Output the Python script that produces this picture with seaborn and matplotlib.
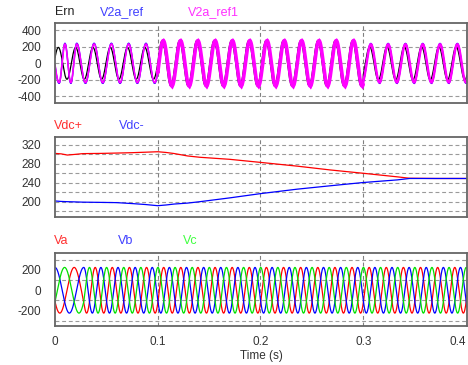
import numpy as np
import pandas as pd
import matplotlib
matplotlib.use("Agg")
import matplotlib.pyplot as plt
import seaborn as sns

# ---- values ----
t_end = 0.401
time_ticks = [0, 0.1, 0.2, 0.3, 0.4]
time_labels = ["0", "0.1", "0.2", "0.3", "0.4"]

# top panel: three stages with their amplitudes
stage_edges = [0.0, 0.1, 0.3, t_end]
ern_amp = [192, 272, 200]
ref_amp = [242, 282, 240]
ref1_amp = [234, 274, 230]
ref1_band = [5, 34, 16]
ref1_width = [1.2, 2.6, 1.8]
f_top = 59.4
ern_lead = 0.0011              # s, Ern ahead of the references
ref_peak_t = 0.0212
ref_start_shift = -3.0          # rad, start-up phase offset
ref_shift_t = [0.004, 0.021]    # offset held, then released

# middle panel: dc link voltages
vdc_t = [0.0, 0.006, 0.012, 0.02, 0.027, 0.045, 0.06, 0.075, 0.088, 0.1, 0.108,
         0.116, 0.129, 0.141, 0.17, 0.2, 0.236, 0.268, 0.3, 0.333, 0.345, 0.37, 0.401]
vdc_pos = [302, 301, 298.5, 300, 301.5, 302, 302.7, 303.5, 304.5, 305.5, 304,
           301.7, 296.6, 293.8, 289.5, 283, 275, 267, 260, 252.5, 249.5, 249, 249]
vdc_neg = [201.5, 200.5, 200, 199.5, 199, 198.5, 198, 196, 194, 191.5, 193,
           195, 197, 200, 208, 217, 226.5, 233.6, 240.5, 246, 249, 249, 249]

# bottom panel: three-phase voltages
abc_amp = 225
f_abc = 60.0
abc_phase0 = 7 * np.pi / 6
abc_startup_lag = 4.27          # rad lost during the start-up
abc_startup_t = 0.028

# ---- waveforms ----
t = np.linspace(0, t_end, 8021)
stage = np.searchsorted(stage_edges[1:-1], t, side="right")
w_top = 2 * np.pi * f_top
ern = np.array(ern_amp)[stage] * np.cos(w_top * (t - ref_peak_t + ern_lead))
hold = np.clip(1 - (t - ref_shift_t[0]) / (ref_shift_t[1] - ref_shift_t[0]), 0, 1)
ref_theta = w_top * (t - ref_peak_t) + ref_start_shift * hold
v2a_ref = np.array(ref_amp)[stage] * np.cos(ref_theta)
v2a_ref1 = np.array(ref1_amp)[stage] * np.cos(ref_theta)
band = np.array(ref1_band)[stage]

theta = abc_phase0 + 2 * np.pi * f_abc * t - abc_startup_lag * np.clip(t / abc_startup_t, 0, 1)
abc = pd.DataFrame({
    "t": t,
    "Va": abc_amp * np.sin(theta),
    "Vb": abc_amp * np.sin(theta - 2 * np.pi / 3),
    "Vc": abc_amp * np.sin(theta + 2 * np.pi / 3),
})
top = pd.DataFrame({"t": t, "stage": stage, "Ern": ern,
                    "V2a_ref": v2a_ref, "V2a_ref1": v2a_ref1})
dc = pd.DataFrame({"t": vdc_t, "Vdc+": vdc_pos, "Vdc-": vdc_neg})

# ---- figure ----
sns.set_style("white")
plt.rcParams["font.family"] = ["Liberation Sans", "DejaVu Sans"]

W, H = 468, 365
fig = plt.figure(figsize=(W / 100, H / 100), dpi=100)

def box(top_px, bottom_px):
    return [55 / W, (H - bottom_px) / H, 412 / W, (bottom_px - top_px) / H]

ax1 = fig.add_axes(box(22.7, 102.7))
ax2 = fig.add_axes(box(137.3, 217.3))
ax3 = fig.add_axes(box(252.5, 326))

RED, BLUE, GREEN, MAG = "#ff0000", "#0000ff", "#00e000", "#ff00ff"
kw = dict(estimator=None, sort=False, legend=False)

sns.lineplot(data=top, x="t", y="Ern", color="black", lw=0.9, ax=ax1, **kw)
sns.lineplot(data=top, x="t", y="V2a_ref", color=BLUE, lw=1.0, ax=ax1, **kw)
ax1.fill_between(t, v2a_ref1 - band, v2a_ref1 + band, color=MAG, lw=0)
for k, part in top.groupby("stage"):
    # keep stages joined at their edges
    if k > 0:
        part = pd.concat([top[top["stage"] == k - 1].tail(1), part])
    sns.lineplot(data=part, x="t", y="V2a_ref1", color=MAG, lw=ref1_width[k], ax=ax1, **kw)

sns.lineplot(data=dc, x="t", y="Vdc+", color=RED, lw=0.9, ax=ax2, **kw)
sns.lineplot(data=dc, x="t", y="Vdc-", color=BLUE, lw=0.9, ax=ax2, **kw)

sns.lineplot(data=abc, x="t", y="Va", color=RED, lw=0.9, ax=ax3, **kw)
sns.lineplot(data=abc, x="t", y="Vb", color=BLUE, lw=0.9, ax=ax3, **kw)
sns.lineplot(data=abc, x="t", y="Vc", color=GREEN, lw=0.9, ax=ax3, **kw)

panels = [
    (ax1, (-475, 490), [-400, -200, 0, 200, 400], [-400, -200, 0, 200, 400]),
    (ax2, (167, 336), [200, 240, 280, 320], list(range(180, 321, 20))),
    (ax3, (-352, 372), [-200, 0, 200], [-300, -100, 100, 300]),
]
for ax, ylim, yticks, grid in panels:
    ax.set_xlim(0, t_end)
    ax.set_ylim(*ylim)
    ax.set_yticks(yticks)
    ax.set_yticklabels([str(v) for v in yticks])
    for g in grid:
        ax.axhline(g, color="#9a9a9a", lw=0.8, ls=(0, (3.5, 2.5)), zorder=0)
    for g in [0.1, 0.2, 0.3]:
        ax.axvline(g, color="#808080", lw=0.8, ls=(0, (3.5, 2.5)), zorder=0)
    ax.set_xticks(time_ticks)
    ax.set_xlabel("")
    ax.set_ylabel("")
    ax.tick_params(length=0, labelsize=8.5, colors="#333333", pad=3)
    ax.tick_params(axis="y", pad=10)
    for s in ax.spines.values():
        s.set_color("#666666")
        s.set_linewidth(1.3)

ax1.set_xticklabels([])
ax2.set_xticklabels([])
ax3.set_xticklabels(time_labels)
ax3.get_xticklabels()[-1].set_horizontalalignment("right")
ax3.tick_params(axis="x", pad=7)
ax3.set_xlabel("Time (s)", fontsize=8.5, color="#333333", labelpad=2)

def labels(y_px, items):
    for x_px, txt, col in items:
        fig.text(x_px / W, 1 - y_px / H, txt, color=col, fontsize=9, va="center", ha="left")

labels(12, [(55, "Ern", "#222222"), (100, "V2a_ref", "#4040ff"), (188, "V2a_ref1", "#ff30ff")])
labels(126, [(54, "Vdc+", "#ff3030"), (119, "Vdc-", "#4040ff")])
labels(241, [(54, "Va", "#ff3030"), (118, "Vb", "#4040ff"), (183, "Vc", "#40ff40")])

fig.savefig("out.png", dpi=100)
